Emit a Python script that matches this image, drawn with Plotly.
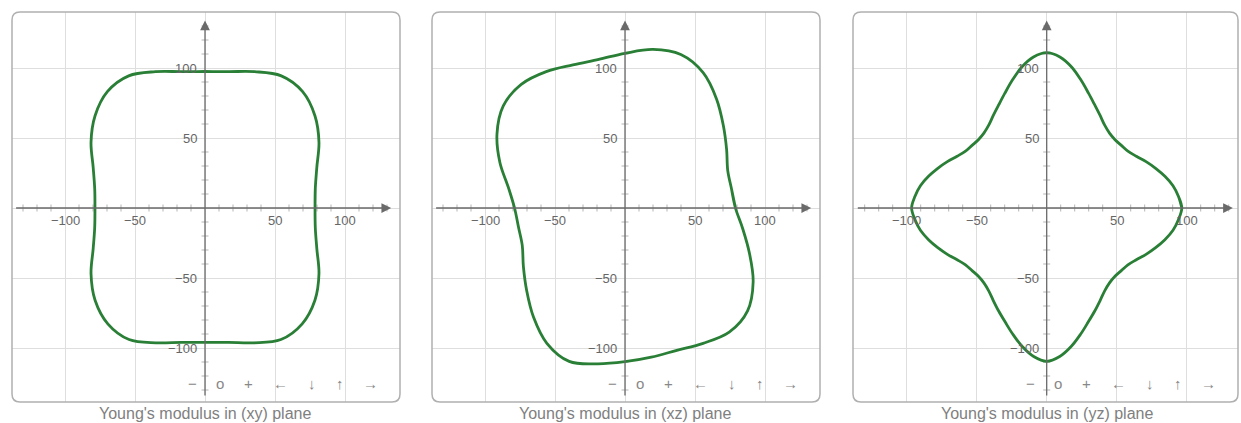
import numpy as np
import plotly.graph_objects as go

# ---------------- data ----------------
angles_10 = list(range(0, 360, 10))
angles_5 = list(range(0, 360, 5))

# Young's modulus radius (polar) in each plane
r_xy = [78.6, 80, 85, 94, 102.5, 108.5, 109, 103.6, 98.9, 97.5,
        98.9, 103.6, 109, 108.5, 102.5, 94, 85, 80,
        78.6, 80, 85, 94, 102.5, 108, 108.5, 102.5, 97.5, 96,
        97.5, 102.5, 108.5, 108, 102.5, 94, 85, 80]
r_xz = [78.9, 77.3, 78.1, 83.8, 91.7, 101.7, 111.6, 116.6, 115, 110.5,
        107.8, 108.8, 112.5, 115.3, 113.5, 105.6, 95.1, 84.6,
        78.9, 77.3, 78.1, 83.8, 91.7, 101.7, 111.6, 116.6, 113, 109.8,
        108.2, 108.2, 111.6, 115.8, 114.3, 105.7, 94.6, 85.4]
r_yz = [96.5, 94.5, 91.6, 87.4, 82.8, 78.3, 73.9, 70.8, 69.6, 69.0,
        69.8, 72.2, 76.3, 81.2, 87.3, 94.6, 102.3, 108.3, 111,
        108.3, 102.3, 94.6, 87.3, 81.2, 76.3, 72.2, 69.8, 69.0,
        69.6, 70.8, 73.9, 78.3, 82.8, 87.4, 91.6, 94.5,
        96.5, 94.5, 91.6, 87.4, 82.8, 78.3, 73.9, 70.8, 69.6, 69.0,
        69.8, 72.2, 76.3, 81.2, 86.7, 93.4, 100.5, 106.5, 109.5,
        106.5, 100.5, 93.4, 86.7, 81.2, 76.3, 72.2, 69.8, 69.0,
        69.6, 70.8, 73.9, 78.3, 82.8, 87.4, 91.6, 94.5]

titles = ["Young's modulus in (xy) plane",
          "Young's modulus in (xz) plane",
          "Young's modulus in (yz) plane"]
tick_values = [-100, -50, 50, 100]
tick_labels = ["\u2212100", "\u221250", "50", "100"]
minor_ticks = [-130, -120, -110, -90, -80, -70, -60, -40, -30, -20, -10,
               10, 20, 30, 40, 60, 70, 80, 90, 110, 120, 130]
toolbar_labels = ["\u2212", "o", "+", "\u2190", "\u2193", "\u2191", "\u2192"]

# ---------------- layout geometry (pixels) ----------------
W, H = 1241, 423
panels = [(12, 400, 205.0), (432, 820, 625.0), (853, 1238, 1046.7)]  # left, right, origin-x
TOP, BOTTOM, OY = 12, 402, 208.0
S = 1.4  # px per data unit
toolbar_offsets = [208, 180, 152, 120, 88, 60, 30]  # from right edge of panel

GREEN = "#2a7f36"
GRID = "#dedede"
AXIS = "#6a6a6a"
FONT = "Liberation Sans, Arial, sans-serif"

fig = go.Figure()
series = [(angles_10, r_xy), (angles_10, r_xz), (angles_5, r_yz)]

annotations = []
shapes = []
for i, (l, r, ox) in enumerate(panels):
    n = "" if i == 0 else str(i + 1)
    xa, ya = "x" + n, "y" + n
    ang, rad = series[i]
    theta = np.deg2rad(np.array(ang + [ang[0], ang[1]], dtype=float))
    rr = np.array(rad + [rad[0], rad[1]], dtype=float)

    # minor ticks on axes
    fig.add_trace(go.Scatter(
        x=minor_ticks, y=[0] * len(minor_ticks), mode="markers",
        marker=dict(symbol="line-ns", size=5, line=dict(width=1, color="#b5b5b5")),
        xaxis=xa, yaxis=ya, hoverinfo="skip", showlegend=False))
    fig.add_trace(go.Scatter(
        x=[0] * len(minor_ticks), y=minor_ticks, mode="markers",
        marker=dict(symbol="line-ew", size=5, line=dict(width=1, color="#b5b5b5")),
        xaxis=xa, yaxis=ya, hoverinfo="skip", showlegend=False))

    # curve
    fig.add_trace(go.Scatter(
        x=rr * np.cos(theta), y=rr * np.sin(theta), mode="lines",
        line=dict(color=GREEN, width=2.8, shape="spline", smoothing=1.0),
        xaxis=xa, yaxis=ya, hoverinfo="skip", showlegend=False))

    ax_kw = dict(showgrid=True, gridcolor=GRID, gridwidth=1, dtick=50, tick0=0,
                 showticklabels=False, zeroline=False, showline=False, ticks="",
                 fixedrange=True)
    fig.layout["xaxis" + n] = dict(
        domain=[l / W, r / W], range=[(l - ox) / S, (r - ox) / S],
        anchor=ya, **ax_kw)
    fig.layout["yaxis" + n] = dict(
        domain=[1 - BOTTOM / H, 1 - TOP / H], range=[(OY - BOTTOM) / S, (OY - TOP) / S],
        anchor=xa, **ax_kw)

    # axes with arrows
    annotations.append(dict(x=133, y=0, ax=-136, ay=0, xref=xa, yref=ya,
                            axref=xa, ayref=ya, text="", showarrow=True,
                            arrowhead=2, arrowsize=1.5, arrowwidth=1.3, arrowcolor=AXIS))
    annotations.append(dict(x=0, y=134, ax=0, ay=-135, xref=xa, yref=ya,
                            axref=xa, ayref=ya, text="", showarrow=True,
                            arrowhead=2, arrowsize=1.5, arrowwidth=1.3, arrowcolor=AXIS))

    # tick labels
    for v, t in zip(tick_values, tick_labels):
        annotations.append(dict(x=v, y=0, xref=xa, yref=ya, text=t, showarrow=False,
                                xanchor="center", yshift=-12,
                                font=dict(size=13, color="#666", family=FONT)))
        annotations.append(dict(x=0, y=v, xref=xa, yref=ya, text=t, showarrow=False,
                                xanchor="right", xshift=-6,
                                font=dict(size=13, color="#666", family=FONT)))

    # navigation toolbar
    for lab, off in zip(toolbar_labels, toolbar_offsets):
        annotations.append(dict(x=(r - off) / W, y=1 - 383 / H, xref="paper", yref="paper",
                                text=lab, showarrow=False, xanchor="center", yanchor="middle",
                                font=dict(size=15, color="#888", family=FONT)))

    # title
    annotations.append(dict(x=ox / W, y=1 - 413 / H, xref="paper", yref="paper",
                            text=titles[i], showarrow=False, xanchor="center",
                            yanchor="middle",
                            font=dict(size=16, color="#808080", family=FONT)))

    # rounded border
    x0, x1 = l / W, r / W
    y0, y1 = 1 - BOTTOM / H, 1 - TOP / H
    rx, ry = 8 / W, 8 / H
    path = (f"M {x0+rx},{y0} L {x1-rx},{y0} Q {x1},{y0} {x1},{y0+ry} "
            f"L {x1},{y1-ry} Q {x1},{y1} {x1-rx},{y1} L {x0+rx},{y1} "
            f"Q {x0},{y1} {x0},{y1-ry} L {x0},{y0+ry} Q {x0},{y0} {x0+rx},{y0} Z")
    shapes.append(dict(type="path", path=path, xref="paper", yref="paper",
                       line=dict(color="#b0b0b0", width=1.5), layer="above"))

fig.update_layout(width=W, height=H, margin=dict(l=0, r=0, t=0, b=0),
                  paper_bgcolor="white", plot_bgcolor="white",
                  annotations=annotations, shapes=shapes, showlegend=False,
                  font=dict(family=FONT))
fig.write_html("out.html", config={"displayModeBar": False},
               post_script="document.body.style.margin='0px';document.body.style.padding='0px';")
